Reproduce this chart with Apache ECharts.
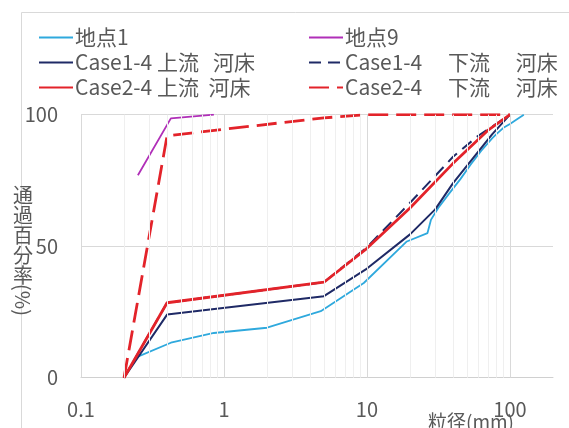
<!DOCTYPE html>
<html>
<head>
<meta charset="utf-8">
<script src="https://cdn.jsdelivr.net/npm/echarts@6/dist/echarts.min.js"></script>
<style>
  html, body { margin: 0; padding: 0; background: #ffffff; }
  #chart { width: 569px; height: 428px; }
</style>
</head>
<body>
<div id="chart"></div>
<script>
// Grain-size distribution: passing percentage vs particle size (log scale)

// 地点1 (field sample)
const site1Size = [0.25, 0.425, 0.85, 2, 4.75, 9.5, 19, 26.5, 28, 31.5, 37.5, 45, 53, 63, 75, 80, 90, 100, 110, 125];
const site1Pass = [8, 13.3, 17, 19, 25.3, 36, 51.8, 55, 60, 64.5, 70, 75.5, 81, 86.3, 91, 92.5, 95, 96.5, 98, 100];

// 地点9 (field sample)
const site9Size = [0.25, 0.425, 0.85];
const site9Pass = [77, 98.6, 100];

// Case1-4 upstream bed
const case1UpSize = [0.2, 0.4, 5, 10, 20, 30, 40, 75, 100];
const case1UpPass = [0, 24, 31, 41.5, 54.5, 64, 74, 92.5, 100];

// Case1-4 downstream bed
const case1DownSize = [0.2, 0.4, 5, 10, 20, 40, 60, 75, 100];
const case1DownPass = [0, 28.5, 36.3, 49.6, 66.5, 84, 92, 95.5, 100];

// Case2-4 upstream bed
const case2UpSize = [0.2, 0.4, 5, 10, 20, 40, 70, 100];
const case2UpPass = [0, 28.5, 36.3, 49.2, 64.5, 81.5, 94, 100];

// Case2-4 downstream bed
const case2DownSize = [0.2, 0.4, 5, 10, 100];
const case2DownPass = [0, 92, 98.8, 100, 100];

// axis settings
const xTickLabels = [0.1, 1, 10, 100];
const minorGridSizes = [0.2, 0.3, 0.4, 0.5, 0.6, 0.7, 0.8, 0.9,
                        2, 3, 4, 5, 6, 7, 8, 9,
                        20, 30, 40, 50, 60, 70, 80, 90];
const yTicks = [0, 50, 100];
const xAxisTitle = '粒径(mm)';

const names = {
  s1: '地点1',
  s9: '地点9',
  c1u: 'Case1-4 上流   河床',
  c1d: 'Case1-4　 下流　 河床',
  c2u: 'Case2-4 上流  河床',
  c2d: 'Case2-4　 下流　 河床'
};

const FONT = 'Noto Sans CJK JP';
const TEXT = '#595959';

function pairs(xs, ys) { return xs.map((x, i) => [x, ys[i]]); }

function lineSeries(name, xs, ys, color, width, dash, z) {
  return {
    name: name,
    type: 'line',
    data: pairs(xs, ys),
    symbol: 'none',
    smooth: false,
    z: z,
    lineStyle: { color: color, width: width, type: dash || 'solid' },
    itemStyle: { color: color }
  };
}

const chart = echarts.init(document.getElementById('chart'), null, { renderer: 'canvas' });

const legendCommon = {
  orient: 'vertical',
  top: 22,
  itemWidth: 34,
  itemHeight: 14,
  itemGap: 4,
  itemStyle: { opacity: 0 },
  lineStyle: { width: 2 },
  textStyle: { fontFamily: FONT, fontSize: 21, color: TEXT, padding: [0, 0, 0, -3] },
  selectedMode: false
};

chart.setOption({
  animation: false,
  backgroundColor: '#ffffff',
  textStyle: { fontFamily: FONT },
  grid: {
    left: 81, right: 16, top: 114.7, bottom: 50.3,
    containLabel: false,
    outerBoundsMode: 'none'
  },
  legend: [
    Object.assign({ left: 33, data: [names.s1, names.c1u, names.c2u] }, legendCommon),
    Object.assign({ left: 303, data: [names.s9, names.c1d, names.c2d] }, legendCommon)
  ],
  xAxis: {
    type: 'log',
    logBase: 10,
    min: 0.1,
    max: 200,
    axisLine: { show: true, lineStyle: { color: '#d0d0d0', width: 1 } },
    axisTick: { show: false },
    axisLabel: {
      show: true,
      margin: 22,
      fontFamily: FONT,
      fontSize: 20,
      color: TEXT,
      showMaxLabel: false,
      formatter: function (v) {
        return xTickLabels.some(t => Math.abs(t - v) < 1e-9) ? String(v) : '';
      }
    },
    splitLine: { show: false }
  },
  yAxis: {
    type: 'value',
    min: yTicks[0],
    max: yTicks[yTicks.length - 1],
    interval: yTicks[1] - yTicks[0],
    axisLine: { show: false },
    axisTick: { show: false },
    axisLabel: { margin: 23, fontFamily: FONT, fontSize: 20, color: TEXT },
    splitLine: { show: true, lineStyle: { color: '#d9d9d9', width: 1 } }
  },
  graphic: [
    {
      type: 'rect',
      silent: true,
      shape: { x: 21.5, y: 12.5, width: 700, height: 600 },
      style: { fill: 'none', stroke: '#d9d9d9', lineWidth: 1 }
    },
    {
      type: 'text',
      silent: true,
      x: 13,
      y: 185,
      style: {
        text: '通\n過\n百\n分\n率',
        font: '20px "' + FONT + '"',
        lineHeight: 20,
        fill: TEXT
      }
    },
    {
      type: 'text',
      silent: true,
      x: 23,
      y: 300,
      rotation: -Math.PI / 2,
      style: {
        text: '(%)',
        font: '20px "' + FONT + '"',
        fill: TEXT,
        align: 'center',
        verticalAlign: 'middle'
      }
    },
    {
      type: 'text',
      silent: true,
      x: 471,
      y: 412,
      z: 10,
      style: {
        text: xAxisTitle,
        font: '19px "' + FONT + '"',
        fill: TEXT,
        align: 'center',
        verticalAlign: 'top'
      }
    }
  ],
  series: [
    {
      name: 'grid',
      type: 'line',
      data: [],
      silent: true,
      z: 0,
      markLine: {
        silent: true,
        symbol: 'none',
        label: { show: false },
        animation: false,
        data: minorGridSizes.map(v => ({ xAxis: v, lineStyle: { color: '#efefef', width: 1, type: 'solid' } }))
          .concat(xTickLabels.map(v => ({ xAxis: v, lineStyle: { color: '#d9d9d9', width: 1, type: 'solid' } })))
      }
    },
    lineSeries(names.s1, site1Size, site1Pass, '#2fa9dd', 1.8, null, 2),
    lineSeries(names.s9, site9Size, site9Pass, '#b02fb8', 1.8, null, 2),
    lineSeries(names.c1u, case1UpSize, case1UpPass, '#1f2a66', 2, null, 3),
    lineSeries(names.c1d, case1DownSize, case1DownPass, '#1f2a66', 2, [12, 7], 3),
    lineSeries(names.c2u, case2UpSize, case2UpPass, '#e3232a', 2.8, null, 4),
    lineSeries(names.c2d, case2DownSize, case2DownPass, '#e3232a', 2.8, [20, 8], 4)
  ]
});
</script>
</body>
</html>
